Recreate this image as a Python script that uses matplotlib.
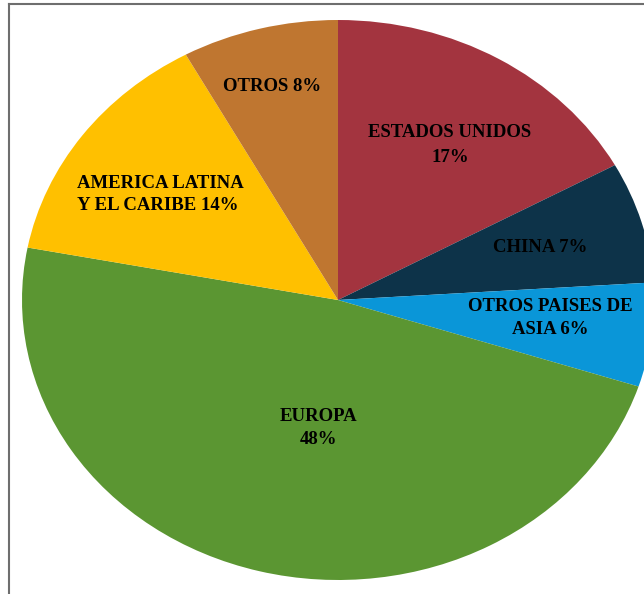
import matplotlib
matplotlib.use("Agg")
import matplotlib.pyplot as plt
from matplotlib.lines import Line2D

# Datos (porcentajes, sentido horario desde las 12)
regiones = ["ESTADOS UNIDOS", "CHINA", "OTROS PAISES DE ASIA", "EUROPA",
            "AMERICA LATINA Y EL CARIBE", "OTROS"]
porcentajes = [17, 7, 6, 48, 14, 8]
colores = ["#A3343F", "#0D3349", "#0A96D8", "#5B9632", "#FFC000", "#BF7630"]

etiquetas = ["ESTADOS UNIDOS\n17%", "CHINA 7%", "OTROS PAISES DE\nASIA 6%",
             "EUROPA\n48%", "AMERICA LATINA\nY EL CARIBE 14%", "OTROS 8%"]
# posicion de cada etiqueta (coords del eje), alineacion, interlineado
pos_etiquetas = [(0.354, 0.555, "center", 1.6), (0.639, 0.189, "center", 1.4),
                 (0.672, -0.064, "center", 1.45), (-0.063, -0.456, "center", 1.45),
                 (-0.826, 0.377, "left", 1.4), (-0.209, 0.762, "center", 1.4)]

W, H = 644, 594
fig = plt.figure(figsize=(W / 100, H / 100), dpi=100)

# pie estirado horizontalmente: centro (338,300), rx 316, ry 281 px
cx, cy, rx, ry = 338, 300, 316, 280
ax = fig.add_axes([(cx - rx) / W, (H - cy - ry) / H, 2 * rx / W, 2 * ry / H])
ax.pie(porcentajes, colors=colores, startangle=90, counterclock=False,
       wedgeprops=dict(linewidth=0))
ax.set_aspect("auto")
ax.set_xlim(-1, 1)
ax.set_ylim(-1, 1)
ax.axis("off")

for txt, (x, y, ha, ls) in zip(etiquetas, pos_etiquetas):
    ax.text(x, y, txt, ha=ha, va="center", multialignment=ha,
            fontsize=13.5, fontweight="bold", family="Liberation Serif",
            color="black", linespacing=ls)

# marco gris (izquierda y arriba)
fig.add_artist(Line2D([9 / W, 9 / W], [0, 1 - 4 / H], transform=fig.transFigure,
                      color="#6E6E6E", lw=1.5))
fig.add_artist(Line2D([9 / W, 1], [1 - 4 / H, 1 - 4 / H], transform=fig.transFigure,
                      color="#6E6E6E", lw=1.5))

fig.savefig("out.png", dpi=100, facecolor="white")
